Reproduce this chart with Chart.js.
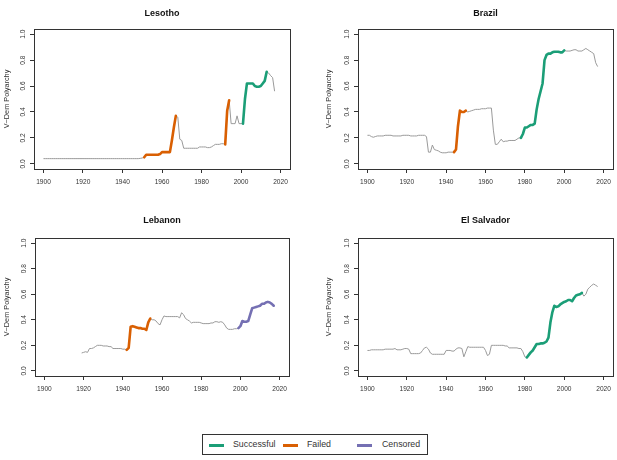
<!DOCTYPE html>
<html>
<head>
<meta charset="utf-8">
<title>Democratization episodes</title>
<script src="https://cdn.jsdelivr.net/npm/chart.js@4.4.1/dist/chart.umd.min.js"></script>
<style>
  body { margin: 0; background: #fff; }
  #wrap { position: relative; width: 617px; height: 460px; font-family: "Liberation Sans", Arial, sans-serif; }
  #wrap canvas { position: absolute; }
  #legend { position: absolute; left: 202px; top: 434px; width: 224px; height: 19px; border: 1px solid #333; }
  #legend .key { position: absolute; top: 9px; width: 15px; height: 2.5px; }
  #legend .lab { position: absolute; top: 4px; font-size: 8.8px; line-height: 11px; color: #333; }
</style>
</head>
<body>
<div id="wrap">
  <canvas id="c-lesotho" width="308" height="205" style="left:0;top:0"></canvas>
  <canvas id="c-brazil" width="309" height="205" style="left:308px;top:0"></canvas>
  <canvas id="c-lebanon" width="308" height="205" style="left:0;top:205px"></canvas>
  <canvas id="c-salvador" width="309" height="205" style="left:308px;top:205px"></canvas>
  <div id="legend">
    <span class="key" style="left:6px;background:#1B9E77"></span><span class="lab" style="left:30px">Successful</span>
    <span class="key" style="left:80px;background:#D95F02"></span><span class="lab" style="left:104px">Failed</span>
    <span class="key" style="left:154px;background:#7570B3"></span><span class="lab" style="left:179px">Censored</span>
  </div>
</div>
<script>
// axis ticks
const xTicks = [1900, 1920, 1940, 1960, 1980, 2000, 2020];
const yTicks = [0, 0.2, 0.4, 0.6, 0.8, 1.0];

// V-Dem polyarchy, one value per year starting at xxxStart
const lesothoStart = 1900;
const lesothoValues = [
  0.04, 0.04, 0.04, 0.04, 0.04, 0.04, 0.04, 0.04, 0.04, 0.04,
  0.04, 0.04, 0.04, 0.04, 0.04, 0.04, 0.04, 0.04, 0.04, 0.04,
  0.04, 0.04, 0.04, 0.04, 0.04, 0.04, 0.04, 0.04, 0.04, 0.04,
  0.04, 0.04, 0.04, 0.04, 0.04, 0.04, 0.04, 0.04, 0.04, 0.04,
  0.04, 0.04, 0.04, 0.04, 0.04, 0.04, 0.04, 0.04, 0.04, 0.042,
  0.045, 0.05, 0.07, 0.07, 0.07, 0.07, 0.07, 0.07, 0.07, 0.075,
  0.09, 0.09, 0.09, 0.09, 0.09, 0.18, 0.28, 0.37, 0.36, 0.19,
  0.18, 0.12, 0.12, 0.12, 0.12, 0.12, 0.12, 0.12, 0.12, 0.13,
  0.13, 0.13, 0.13, 0.125, 0.125, 0.13, 0.14, 0.15, 0.15, 0.15,
  0.155, 0.155, 0.15, 0.41, 0.49, 0.31, 0.31, 0.31, 0.37, 0.31,
  0.31, 0.31, 0.5, 0.62, 0.62, 0.62, 0.62, 0.6, 0.595, 0.595,
  0.6, 0.62, 0.64, 0.71, 0.7, 0.68, 0.665, 0.56
];
const lesothoEpisodes = [[1951, 1967, "Failed"], [1992, 1994, "Failed"], [2001, 2013, "Successful"]];

const brazilStart = 1900;
const brazilValues = [
  0.22, 0.22, 0.21, 0.205, 0.21, 0.215, 0.215, 0.215, 0.215, 0.22,
  0.22, 0.22, 0.22, 0.215, 0.215, 0.215, 0.215, 0.215, 0.22, 0.22,
  0.22, 0.22, 0.215, 0.215, 0.215, 0.215, 0.22, 0.22, 0.22, 0.22,
  0.21, 0.09, 0.09, 0.145, 0.11, 0.105, 0.1, 0.09, 0.085, 0.085,
  0.085, 0.09, 0.09, 0.09, 0.09, 0.11, 0.29, 0.41, 0.4, 0.4,
  0.41, 0.4, 0.405, 0.41, 0.415, 0.42, 0.42, 0.42, 0.425, 0.425,
  0.425, 0.43, 0.43, 0.43, 0.26, 0.15, 0.15, 0.17, 0.19, 0.17,
  0.175, 0.175, 0.18, 0.18, 0.18, 0.18, 0.19, 0.2, 0.2, 0.23,
  0.28, 0.28, 0.29, 0.3, 0.3, 0.31, 0.42, 0.5, 0.56, 0.62,
  0.8, 0.84, 0.85, 0.85, 0.86, 0.865, 0.865, 0.865, 0.86, 0.86,
  0.875, 0.87, 0.87, 0.87, 0.875, 0.88, 0.88, 0.87, 0.87, 0.87,
  0.88, 0.89, 0.88, 0.87, 0.86, 0.85, 0.78, 0.75
];
const brazilEpisodes = [[1944, 1950, "Failed"], [1978, 2000, "Successful"]];

const lebanonStart = 1919;
const lebanonValues = [
  0.14,
  0.145, 0.15, 0.145, 0.175, 0.175, 0.18, 0.19, 0.2, 0.2, 0.2,
  0.195, 0.195, 0.195, 0.19, 0.19, 0.175, 0.175, 0.175, 0.175, 0.175,
  0.17, 0.17, 0.165, 0.18, 0.345, 0.35, 0.345, 0.34, 0.335, 0.335,
  0.33, 0.33, 0.32, 0.38, 0.41, 0.4, 0.4, 0.39, 0.37, 0.36,
  0.4, 0.43, 0.425, 0.425, 0.425, 0.425, 0.425, 0.425, 0.425, 0.415,
  0.455, 0.44, 0.41, 0.4, 0.39, 0.375, 0.38, 0.38, 0.38, 0.38,
  0.375, 0.37, 0.37, 0.37, 0.37, 0.375, 0.375, 0.385, 0.385, 0.38,
  0.385, 0.38, 0.36, 0.335, 0.325, 0.325, 0.325, 0.33, 0.33, 0.335,
  0.35, 0.39, 0.385, 0.385, 0.39, 0.44, 0.49, 0.495, 0.5, 0.505,
  0.51, 0.525, 0.525, 0.535, 0.54, 0.535, 0.525, 0.51
];
const lebanonEpisodes = [[1942, 1954, "Failed"], [1999, 2017, "Censored"]];

const salvadorStart = 1900;
const salvadorValues = [
  0.16, 0.16, 0.165, 0.165, 0.165, 0.165, 0.165, 0.165, 0.165, 0.17,
  0.17, 0.17, 0.17, 0.17, 0.175, 0.165, 0.165, 0.165, 0.17, 0.175,
  0.175, 0.17, 0.135, 0.135, 0.135, 0.135, 0.135, 0.14, 0.16, 0.18,
  0.185, 0.17, 0.14, 0.13, 0.13, 0.13, 0.13, 0.13, 0.13, 0.13,
  0.16, 0.16, 0.16, 0.155, 0.155, 0.17, 0.18, 0.18, 0.175, 0.11,
  0.15, 0.19, 0.185, 0.185, 0.185, 0.185, 0.185, 0.185, 0.185, 0.185,
  0.16, 0.12, 0.13, 0.2, 0.2, 0.2, 0.2, 0.2, 0.2, 0.2,
  0.195, 0.195, 0.18, 0.18, 0.18, 0.18, 0.18, 0.175, 0.175, 0.15,
  0.11, 0.105, 0.125, 0.145, 0.16, 0.185, 0.21, 0.21, 0.215, 0.215,
  0.22, 0.23, 0.26, 0.38, 0.46, 0.51, 0.5, 0.505, 0.52, 0.53,
  0.54, 0.545, 0.555, 0.555, 0.545, 0.57, 0.59, 0.595, 0.6, 0.61,
  0.585, 0.6, 0.64, 0.655, 0.67, 0.68, 0.67, 0.66
];
const salvadorEpisodes = [[1981, 2009, "Successful"]];

const episodeColors = { Successful: "#1B9E77", Failed: "#D95F02", Censored: "#7570B3" };

// layout of each panel (chart area offsets inside its canvas)
const panels = [
  { id: "c-lesotho", title: "Lesotho", start: lesothoStart, values: lesothoValues, episodes: lesothoEpisodes,
    axisW: 34, padRight: 18, titlePad: { top: 8.6, bottom: 9.6 }, axisH: 36, labelX: 7 },
  { id: "c-brazil", title: "Brazil", start: brazilStart, values: brazilValues, episodes: brazilEpisodes,
    axisW: 50, padRight: 4, titlePad: { top: 8.6, bottom: 9.6 }, axisH: 36, labelX: 21 },
  { id: "c-lebanon", title: "Lebanon", start: lebanonStart, values: lebanonValues, episodes: lebanonEpisodes,
    axisW: 35, padRight: 19, titlePad: { top: 10.3, bottom: 11.9 }, axisH: 34, labelX: 7 },
  { id: "c-salvador", title: "El Salvador", start: salvadorStart, values: salvadorValues, episodes: salvadorEpisodes,
    axisW: 50, padRight: 4, titlePad: { top: 10.3, bottom: 11.9 }, axisH: 34, labelX: 21 },
];

Chart.defaults.font.family = "'Liberation Sans', Arial, sans-serif";

// year/value pairs between two years (inclusive)
function toPoints(start, values, from, to) {
  const pts = [];
  values.forEach((v, i) => {
    const yr = start + i;
    if (yr >= from && yr <= to) pts.push({ x: yr, y: v });
  });
  return pts;
}

// box around the plot region, like R's bty="o"
const framePlugin = {
  id: "frame",
  afterDraw(chart) {
    const a = chart.chartArea;
    const ctx = chart.ctx;
    ctx.save();
    ctx.strokeStyle = "#333";
    ctx.lineWidth = 1;
    ctx.strokeRect(Math.round(a.left) + 0.5, Math.round(a.top) + 0.5,
      Math.round(a.right - a.left), Math.round(a.bottom - a.top));
    ctx.restore();
  },
};

function drawPanel(p) {
  // grey line for the whole series, drawn behind (higher order = further back)
  const datasets = [{
    data: toPoints(p.start, p.values, 0, 9999),
    borderColor: "#9a9a9a",
    borderWidth: 1,
    pointRadius: 0,
    tension: 0,
    order: 2,
  }];
  // coloured episodes on top
  p.episodes.forEach((ep) => {
    datasets.push({
      data: toPoints(p.start, p.values, ep[0], ep[1]),
      borderColor: episodeColors[ep[2]],
      borderWidth: 2.6,
      borderCapStyle: "round",
      borderJoinStyle: "round",
      pointRadius: 0,
      tension: 0,
      order: 1,
    });
  });

  const tickColor = "#333";
  return new Chart(document.getElementById(p.id), {
    type: "line",
    data: { datasets: datasets },
    options: {
      responsive: false,
      animation: false,
      devicePixelRatio: 1,
      layout: { padding: { left: 0, right: p.padRight, top: 0, bottom: 0 } },
      plugins: {
        legend: { display: false },
        tooltip: { enabled: false },
        title: {
          display: true,
          text: p.title,
          fullSize: false,
          color: "#111",
          font: { size: 9, weight: "bold", lineHeight: 1.2 },
          padding: p.titlePad,
        },
      },
      scales: {
        x: {
          type: "linear",
          min: 1895.2,
          max: 2024.8,
          afterBuildTicks: (s) => { s.ticks = xTicks.map((v) => ({ value: v })); },
          afterFit: (s) => { s.height = p.axisH; },
          grid: { drawOnChartArea: false, drawTicks: true, tickLength: 4, color: tickColor },
          border: { display: false },
          ticks: {
            autoSkip: false, maxRotation: 0, padding: 5,
            color: "#333", font: { size: 6.6 },
            callback: (v) => String(v),
          },
        },
        y: {
          type: "linear",
          min: -0.04,
          max: 1.04,
          afterBuildTicks: (s) => { s.ticks = yTicks.map((v) => ({ value: v })); },
          afterFit: (s) => { s.width = p.axisW; },
          grid: { drawOnChartArea: false, drawTicks: true, tickLength: 4, color: tickColor },
          border: { display: false },
          ticks: {
            autoSkip: false, minRotation: 90, maxRotation: 90, crossAlign: "center", padding: 2,
            color: "#333", font: { size: 6.6 },
            callback: (v) => v.toFixed(1),
          },
          title: {
            display: true,
            text: "V\u2212Dem Polyarchy",
            color: "#333",
            font: { size: 7.3, lineHeight: 1.2 },
            padding: { top: p.labelX - 4.4, bottom: 0 },
          },
        },
      },
    },
    plugins: [framePlugin],
  });
}

panels.forEach(drawPanel);
</script>
</body>
</html>
